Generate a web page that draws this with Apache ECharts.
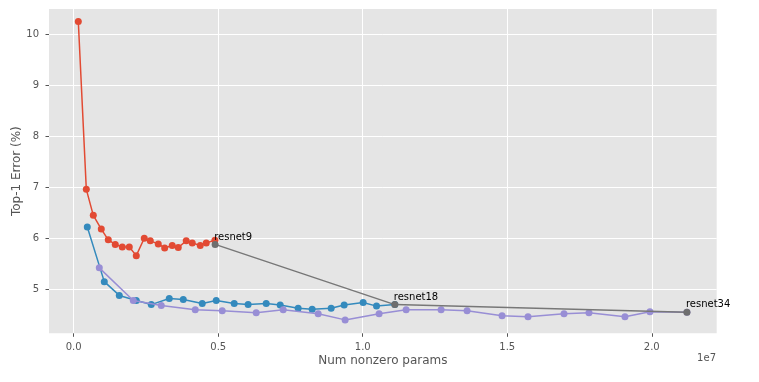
<!DOCTYPE html>
<html>
<head>
<meta charset="utf-8">
<script src="https://cdn.jsdelivr.net/npm/echarts@6/dist/echarts.min.js"></script>
<style>html,body{margin:0;padding:0;background:#fff}#c{width:759px;height:382px}</style>
</head>
<body>
<div id="c"></div>
<script>
var redX = [159000, 436000, 678000, 954000, 1196000, 1438000, 1680000, 1923000, 2165000, 2441000, 2649000, 2925000, 3147000, 3409000, 3617000, 3893000, 4101000, 4378000, 4585000, 4886000];
var redY = [10.25, 6.96, 6.45, 6.18, 5.97, 5.88, 5.83, 5.83, 5.66, 6.00, 5.95, 5.89, 5.81, 5.86, 5.82, 5.95, 5.91, 5.86, 5.91, 5.96];
var blueX = [470000, 1058000, 1577000, 2165000, 2683000, 3306000, 3790000, 4447000, 4931000, 5553000, 6034000, 6660000, 7144000, 7766000, 8250000, 8907000, 9357000, 10014000, 10477000];
var blueY = [6.22, 5.15, 4.88, 4.78, 4.70, 4.82, 4.80, 4.72, 4.78, 4.72, 4.70, 4.72, 4.69, 4.63, 4.61, 4.63, 4.69, 4.74, 4.67];
var purpleX = [885000, 2061000, 3029000, 4205000, 5138000, 6314000, 7248000, 8458000, 9391000, 10567000, 11501000, 12711000, 13610000, 14820000, 15719000, 16964000, 17828000, 19073000, 19938000];
var purpleY = [5.42, 4.78, 4.68, 4.60, 4.58, 4.54, 4.60, 4.52, 4.40, 4.52, 4.60, 4.60, 4.58, 4.48, 4.46, 4.52, 4.54, 4.46, 4.56];
var modelNames = ['resnet9', 'resnet18', 'resnet34'];
var modelX = [4893000, 11110000, 21217000];
var modelY = [5.88, 4.70, 4.55];
var xTicks = [0, 5000000, 10000000, 15000000, 20000000];
var yTicks = [5, 6, 7, 8, 9, 10];

function zip(xs, ys) { return xs.map(function (x, i) { return [x, ys[i]]; }); }

var blueData = zip(blueX, blueY).concat([[modelX[1], modelY[1]]]);
var purpleData = zip(purpleX, purpleY).concat([[modelX[2], modelY[2]]]);
var modelData = modelX.map(function (x, i) { return { value: [x, modelY[i]], name: modelNames[i] }; });

var chart = echarts.init(document.getElementById('c'), null, { renderer: 'canvas' });
var font = 'DejaVu Sans';
chart.setOption({
  animation: false,
  backgroundColor: '#ffffff',
  textStyle: { fontFamily: font },
  grid: { left: 49, top: 9, right: 42.3, bottom: 48.7, show: true, backgroundColor: '#E5E5E5', borderWidth: 0,
    containLabel: false, outerBoundsMode: 'none' },
  xAxis: {
    type: 'value', min: -855000, max: 22247000,
    name: 'Num nonzero params', nameLocation: 'middle', nameGap: 22, nameMoveOverlap: false,
    nameTextStyle: { fontSize: 12, color: '#555555', fontFamily: font },
    axisLine: { show: false, onZero: false },
    axisTick: { show: true, customValues: xTicks, length: 3.5, lineStyle: { color: '#555555', width: 1 } },
    axisLabel: { customValues: xTicks, margin: 9, fontSize: 10, color: '#555555', fontFamily: font,
      formatter: function (v) { return (v / 1e7).toFixed(1); } },
    splitLine: { show: true, lineStyle: { color: '#ffffff', width: 1 } }
  },
  yAxis: {
    type: 'value', min: 4.137, max: 10.496,
    name: 'Top-1 Error (%)', nameLocation: 'middle', nameGap: 26, nameRotate: 90, nameMoveOverlap: false,
    nameTextStyle: { fontSize: 12, color: '#555555', fontFamily: font },
    axisLine: { show: false, onZero: false },
    axisTick: { show: true, customValues: yTicks, length: 3.5, lineStyle: { color: '#555555', width: 1 } },
    axisLabel: { customValues: yTicks, margin: 10, fontSize: 10, color: '#555555', fontFamily: font },
    splitLine: { show: true, lineStyle: { color: '#ffffff', width: 1 } }
  },
  graphic: [{
    type: 'text', right: 43, top: 353,
    style: { text: '1e7', fontSize: 10, fill: '#555555', fontFamily: font }
  }],
  series: [
    { type: 'line', data: zip(redX, redY), symbol: 'circle', symbolSize: 7, z: 2,
      itemStyle: { color: '#E24A33' }, lineStyle: { color: '#E24A33', width: 1.5 } },
    { type: 'line', data: blueData, symbol: 'circle', symbolSize: 7, z: 3,
      itemStyle: { color: '#348ABD' }, lineStyle: { color: '#348ABD', width: 1.5 } },
    { type: 'line', data: purpleData, symbol: 'circle', symbolSize: 7, z: 4,
      itemStyle: { color: '#988ED5' }, lineStyle: { color: '#988ED5', width: 1.5 } },
    { type: 'line', data: modelData, symbol: 'circle', symbolSize: 7, z: 5,
      itemStyle: { color: '#6E6E6E' }, lineStyle: { color: '#777777', width: 1.5 },
      label: { show: true, position: 'top', align: 'left', distance: 2, offset: [-1, 3],
        formatter: function (p) { return p.name; }, fontSize: 10, color: '#000000', fontFamily: font } }
  ]
});
</script>
</body>
</html>
